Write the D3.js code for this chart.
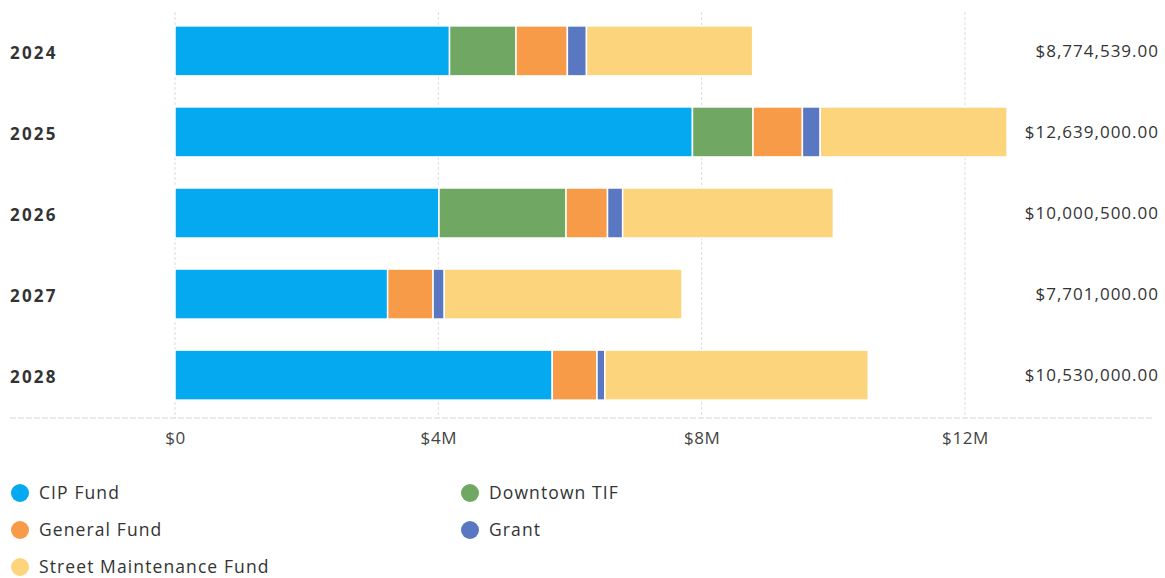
<!DOCTYPE html>
<html>
<head>
<meta charset="utf-8">
<script src="https://cdn.jsdelivr.net/npm/d3@7/dist/d3.min.js"></script>
<style>
  html, body { margin: 0; padding: 0; background: #fff; }
  svg { display: block; font-family: "Open Sans", "Noto Sans", sans-serif; }
</style>
</head>
<body>
<svg id="chart" width="1165" height="578"></svg>
<script>
// Capital funding by year, split by source
const years = ["2024", "2025", "2026", "2027", "2028"];
const seriesNames = ["CIP Fund", "Downtown TIF", "General Fund", "Grant", "Street Maintenance Fund"];
const cipFund     = [4170000, 7860000, 4010000, 3230000, 5730000];
const downtownTif = [1010000,  920000, 1930000,       0,       0];
const generalFund = [ 780000,  750000,  630000,  690000,  680000];
const grant       = [ 290000,  270000,  230000,  170000,  120000];
const streetMaint = [2524539, 2839000, 3200500, 3611000, 4000000];
const totals      = [8774539, 12639000, 10000500, 7701000, 10530000];
const tickValues  = [0, 4000000, 8000000, 12000000];
const tickLabels  = ["$0", "$4M", "$8M", "$12M"];
const colors      = ["#05a9ef", "#70a863", "#f89b48", "#5a77c2", "#fbd47b"];

const seriesValues = [cipFund, downtownTif, generalFund, grant, streetMaint];
const rows = years.map((y, i) => {
  const r = { year: y };
  seriesNames.forEach((s, k) => { r[s] = seriesValues[k][i]; });
  return r;
});

const svg = d3.select("#chart");

const x = d3.scaleLinear().domain([0, 12000000]).range([175, 965]);
const y = d3.scaleBand().domain(years).range([10.5, 415.5])
  .paddingInner(0.383).paddingOuter(0.19);

// vertical gridlines
svg.append("g").selectAll("line").data(tickValues).join("line")
  .attr("x1", d => x(d)).attr("x2", d => x(d))
  .attr("y1", 12).attr("y2", 418)
  .attr("stroke", "#dcdcdc").attr("stroke-width", 1)
  .attr("stroke-dasharray", "3,2");

// baseline
svg.append("line")
  .attr("x1", 10).attr("x2", 1152).attr("y1", 418).attr("y2", 418)
  .attr("stroke", "#d6d6d6").attr("stroke-width", 1)
  .attr("stroke-dasharray", "6,2");

// stacked bars
const stack = d3.stack().keys(seriesNames)(rows);
const color = d3.scaleOrdinal().domain(seriesNames).range(colors);

svg.append("g").selectAll("g").data(stack).join("g")
  .attr("fill", d => color(d.key))
  .selectAll("rect").data(d => d.filter(p => p[1] - p[0] > 0)).join("rect")
  .attr("x", d => x(d[0]))
  .attr("width", d => x(d[1]) - x(d[0]))
  .attr("y", d => y(d.data.year))
  .attr("height", y.bandwidth())
  .attr("stroke", "#fff").attr("stroke-width", 1.5);

// year labels
svg.append("g").selectAll("text").data(years).join("text")
  .attr("x", 10).attr("y", d => y(d) + y.bandwidth() / 2 + 2)
  .attr("dy", "0.35em")
  .attr("font-size", 17).attr("font-weight", 700).attr("fill", "#333")
  .attr("letter-spacing", 2.2)
  .text(d => d);

// totals on the right
const fmt = v => "$" + d3.format(",.2f")(v);
svg.append("g").selectAll("text").data(totals).join("text")
  .attr("x", 1159).attr("y", (d, i) => y(years[i]) + y.bandwidth() / 2)
  .attr("dy", "0.35em").attr("text-anchor", "end")
  .attr("font-size", 17).attr("letter-spacing", 1).attr("fill", "#333")
  .text(d => fmt(d));

// x axis tick labels
const xAxis = d3.axisBottom(x).tickValues(tickValues)
  .tickFormat((d, i) => tickLabels[i]).tickSize(0).tickPadding(0);
const axisG = svg.append("g").attr("transform", "translate(0,432)").call(xAxis);
axisG.select(".domain").remove();
axisG.selectAll("text")
  .attr("font-family", "'Open Sans', 'Noto Sans', sans-serif")
  .attr("font-size", 17).attr("letter-spacing", 0.6).attr("fill", "#444");

// legend
const legendPos = [
  { x: 20, y: 493 }, { x: 470, y: 493 },
  { x: 20, y: 530 }, { x: 470, y: 530 },
  { x: 20, y: 567 }
];
const legendOrder = ["CIP Fund", "Downtown TIF", "General Fund", "Grant", "Street Maintenance Fund"];
const lg = svg.append("g").selectAll("g").data(legendOrder).join("g")
  .attr("transform", (d, i) => `translate(${legendPos[i].x},${legendPos[i].y})`);
lg.append("circle").attr("r", 9).attr("fill", d => color(d));
lg.append("text").attr("x", 19).attr("dy", "0.35em")
  .attr("font-size", 17.5).attr("letter-spacing", 1.1)
  .attr("fill", "#333").text(d => d);
</script>
</body>
</html>
